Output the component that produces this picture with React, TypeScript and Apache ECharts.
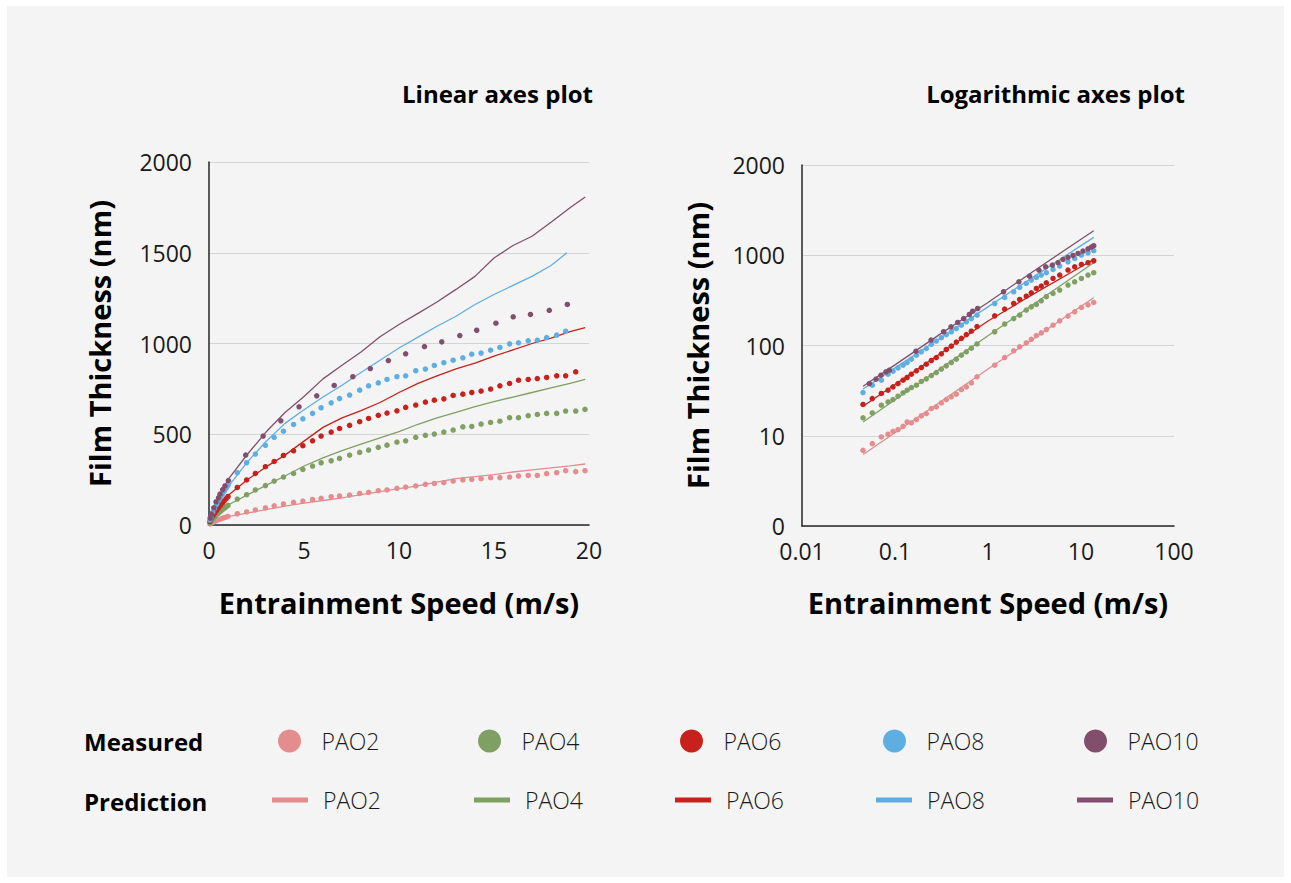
import React, { useEffect, useRef } from "react";
import * as echarts from "echarts";

// ---------- shared ----------
const NAMES = ["PAO2", "PAO4", "PAO6", "PAO8", "PAO10"];
const COLORS = ["#E48C8E", "#7F9F63", "#C8201A", "#5FAEE2", "#814F6B"];

// ---------- linear plot : measured ----------
const LIN_SPEED = [
  0.05, 0.1, 0.2, 0.3, 0.4, 0.5, 0.6, 0.7, 0.8, 0.9, 1.0,
  1.49, 1.98, 2.44, 2.97, 3.43, 3.92, 4.45, 4.94, 5.45, 5.9,
  6.43, 6.87, 7.4, 7.93, 8.4, 8.91, 9.37, 9.89, 10.35, 10.88,
  11.39, 11.86, 12.36, 12.85, 13.36, 13.83, 14.32, 14.82, 15.31, 15.82,
  16.29, 16.8, 17.28, 17.77, 18.3, 18.77, 19.3, 19.79,
];
const LIN_PAO2 = [
  6, 9, 15, 20, 25, 29, 33, 37, 40, 44, 47,
  62, 72, 83, 95, 106, 116, 125, 132, 141, 147,
  156, 160, 165, 174, 180, 189, 193, 202, 209, 215,
  224, 229, 233, 242, 248, 251, 255, 261, 261, 264,
  270, 273, 273, 283, 288, 299, 294, 299,
];
const LIN_PAO4 = [
  13, 22, 35, 46, 57, 66, 75, 84, 92, 100, 108,
  143, 167, 193, 217, 242, 264, 284, 306, 325, 343,
  354, 367, 385, 400, 413, 428, 440, 457, 464, 483,
  494, 501, 512, 523, 541, 543, 556, 565, 572, 591,
  591, 602, 609, 615, 615, 628, 628, 637,
];
const LIN_PAO6 = [
  19, 31, 50, 66, 81, 95, 108, 120, 133, 145, 157,
  207, 248, 284, 321, 350, 383, 409, 437, 464, 490,
  512, 532, 549, 569, 587, 604, 617, 629, 648, 661,
  677, 688, 695, 714, 721, 730, 738, 749, 767, 780,
  798, 802, 807, 813, 822, 822, 844,
];
const LIN_PAO8 = [
  27, 44, 71, 93, 114, 133, 151, 169, 186, 202, 218,
  288, 343, 391, 439, 483, 517, 554, 585, 615, 646,
  673, 697, 716, 743, 767, 783, 802, 817, 822, 850,
  859, 879, 894, 908, 921, 941, 947, 963, 978, 998,
  1004, 1015, 1018, 1033, 1046, 1068,
];
const LIN_PAO10_SPEED = [
  0.06, 0.12, 0.25, 0.37, 0.5, 0.58, 0.72, 0.84, 1.02, 1.93,
  2.85, 3.78, 4.74, 5.67, 6.59, 7.57, 8.49, 9.44, 10.35, 11.34,
  12.25, 13.2, 14.09, 15.1, 16.01, 16.92, 17.91, 18.86,
];
const LIN_PAO10 = [
  38, 60, 95, 128, 150, 170, 195, 215, 245, 385,
  490, 574, 651, 712, 769, 817, 862, 906, 943, 983,
  1009, 1044, 1073, 1112, 1147, 1160, 1183, 1215,
];

// ---------- linear plot : prediction ----------
const LIN_PRED_SPEED = [0, 0.5, 1, 2, 3, 4, 5, 6, 7, 8, 9, 10, 11, 12, 13, 14, 15, 16, 17, 18, 19, 19.8];
const LIN_PRED_PAO2 = [0, 30, 46, 65, 85, 104, 120, 135, 150, 167, 184, 200, 215, 236, 256, 266, 278, 292, 304, 315, 326, 336];
const LIN_PRED_PAO4 = [0, 70, 110, 165, 218, 270, 325, 370, 410, 445, 480, 515, 555, 590, 620, 652, 680, 705, 730, 756, 780, 802];
const LIN_PRED_PAO6 = [0, 100, 163, 248, 320, 385, 462, 538, 590, 630, 675, 730, 780, 822, 860, 892, 930, 965, 1000, 1030, 1065, 1088];
const LIN_PRED_PAO8_SPEED = [0, 0.5, 1, 2, 3, 4, 5, 6, 7, 8, 9, 10, 11, 12, 13, 14, 15, 16, 17, 18, 18.84];
const LIN_PRED_PAO8 = [0, 130, 210, 345, 460, 560, 635, 705, 770, 840, 908, 975, 1035, 1095, 1150, 1215, 1270, 1320, 1370, 1430, 1500];
const LIN_PRED_PAO10 = [0, 150, 250, 387, 512, 620, 708, 805, 880, 953, 1037, 1105, 1166, 1229, 1298, 1370, 1471, 1540, 1591, 1668, 1748, 1807];

// ---------- log plot : measured ----------
const LOG_SPEED = [
  0.0453, 0.057, 0.0713, 0.0841, 0.0951, 0.1077, 0.122, 0.135, 0.15, 0.17,
  0.192, 0.217, 0.246, 0.278, 0.315, 0.356, 0.403, 0.456, 0.517, 0.585,
  0.662, 0.762, 1.18, 1.51, 1.89, 2.19, 2.58, 2.92, 3.31, 3.74,
  4.24, 5.0, 5.9, 7.25, 8.55, 10.1, 11.9, 13.7,
];
const LOG_PAO2 = [
  6.9, 8.2, 9.7, 10.4, 11.2, 11.7, 12.7, 14.2, 13.9, 15.1,
  16.6, 17.6, 20.0, 20.9, 23.1, 25.2, 27.0, 28.9, 32.5, 34.8,
  38.5, 45.0, 60.5, 73.6, 87.3, 96.7, 107, 117, 129, 138,
  150, 168, 188, 212, 236, 264, 282, 300,
];
const LOG_PAO4 = [
  15.8, 17.9, 21.8, 23.7, 25.2, 27.4, 29.9, 32.0, 34.2, 36.3,
  40.0, 42.7, 46.5, 50.2, 54.7, 59.5, 64.8, 70.5, 78.1, 85.1,
  93.4, 104, 142, 173, 199, 217, 247, 268, 285, 313,
  347, 377, 411, 467, 508, 553, 603, 640,
];
const LOG_PAO6 = [
  22.2, 25.8, 29.4, 32.0, 34.8, 37.9, 41.3, 44.2, 48.1, 52.4,
  57.0, 62.1, 68.2, 73.6, 80.9, 90.3, 98.4, 109, 120, 132,
  144, 162, 213, 253, 292, 324, 352, 384, 429, 455,
  495, 553, 603, 685, 745, 791, 826, 869,
];
const LOG_PAO8 = [
  30.1, 36.3, 41.3, 48.1, 51.9, 56.5, 60.5, 64.8, 70.5, 78.1,
  85.1, 92.6, 103, 112, 122, 132, 142, 154, 168, 183,
  199, 217, 292, 341, 394, 440, 487, 531, 568, 603,
  640, 697, 759, 847, 923, 1004, 1066, 1122,
];
const LOG_PAO10_SPEED = [
  0.053, 0.0625, 0.0707, 0.08, 0.0869, 0.168, 0.244, 0.333, 0.4, 0.472,
  0.547, 0.63, 0.684, 0.774, 1.47, 2.15, 2.8, 3.53, 4.17, 4.92,
  5.66, 6.4, 7.25, 8.2, 9.29, 10.5, 11.9, 12.9, 13.7,
];
const LOG_PAO10 = [
  37.9, 42.3, 46.9, 51.0, 53.2, 86.5, 115, 142, 161, 180,
  199, 221, 240, 257, 394, 508, 587, 685, 745, 778,
  826, 899, 946, 995, 1048, 1112, 1180, 1232, 1275,
];

// ---------- log plot : prediction ----------
const LOG_PRED_SPEED = [0.0453, 0.1, 0.3, 1, 3, 10, 13.7];
const LOG_PRED_PAO2 = [6.2, 10.8, 23.4, 55, 117, 272, 338];
const LOG_PRED_PAO4 = [14.2, 25, 54.6, 128, 281, 661, 826];
const LOG_PRED_PAO6 = [21.2, 37, 80, 187, 366, 746, 900];
const LOG_PRED_PAO8 = [33, 56.5, 119, 268, 565, 1277, 1578];
const LOG_PRED_PAO10 = [35.4, 61, 132, 300, 653, 1507, 1870];

// ---------- tick labels ----------
const LIN_X_MAX = 20;
const LIN_Y_MAX = 2000;
const LOG_X_LABELS = ["0.01", "0.1", "1", "10", "100"]; // exponents -2..2
const LOG_Y_LABELS = ["0", "10", "100", "1000", "2000"]; // exponents 0..4

const FONT = "'Open Sans', 'Noto Sans', sans-serif";

const zip = (xs: number[], ys: number[]) => ys.map((y, i) => [xs[i], y]);

const LIN_MEAS = [
  zip(LIN_SPEED, LIN_PAO2),
  zip(LIN_SPEED, LIN_PAO4),
  zip(LIN_SPEED, LIN_PAO6),
  zip(LIN_SPEED, LIN_PAO8),
  zip(LIN_PAO10_SPEED, LIN_PAO10),
];
const LIN_PRED = [
  zip(LIN_PRED_SPEED, LIN_PRED_PAO2),
  zip(LIN_PRED_SPEED, LIN_PRED_PAO4),
  zip(LIN_PRED_SPEED, LIN_PRED_PAO6),
  zip(LIN_PRED_PAO8_SPEED, LIN_PRED_PAO8),
  zip(LIN_PRED_SPEED, LIN_PRED_PAO10),
];
const LOG_MEAS = [
  zip(LOG_SPEED, LOG_PAO2),
  zip(LOG_SPEED, LOG_PAO4),
  zip(LOG_SPEED, LOG_PAO6),
  zip(LOG_SPEED, LOG_PAO8),
  zip(LOG_PAO10_SPEED, LOG_PAO10),
];
const LOG_PRED = [
  zip(LOG_PRED_SPEED, LOG_PRED_PAO2),
  zip(LOG_PRED_SPEED, LOG_PRED_PAO4),
  zip(LOG_PRED_SPEED, LOG_PRED_PAO6),
  zip(LOG_PRED_SPEED, LOG_PRED_PAO8),
  zip(LOG_PRED_SPEED, LOG_PRED_PAO10),
];

const MEAS_LEGEND_LEFT = [278, 478, 680, 883, 1084];
const PRED_LEGEND_LEFT = [272, 474, 675, 876, 1077];

function buildOption() {
  const axisLine = { show: true, lineStyle: { color: "#262626", width: 1.5 } };
  const splitLine = { show: true, lineStyle: { color: "#d4d4d4", width: 1 } };
  const tickLabel = { fontSize: 23, lineHeight: 20, color: "#1a1a1a", fontFamily: FONT };
  const nameStyle = { fontSize: 29, fontWeight: "bold", color: "#000", fontFamily: FONT };
  const titleStyle = { fontSize: 24, fontWeight: "bold", color: "#000", fontFamily: FONT };

  const series: any[] = [];
  NAMES.forEach((n, i) => {
    const c = COLORS[i];
    series.push({
      name: "Prediction " + n, type: "line", xAxisIndex: 0, yAxisIndex: 0,
      data: LIN_PRED[i], symbol: "none", showSymbol: false, smooth: false,
      lineStyle: { color: c, width: 1.3 }, itemStyle: { color: c }, z: 2,
    });
    series.push({
      name: "Measured " + n, type: "scatter", xAxisIndex: 0, yAxisIndex: 0,
      data: LIN_MEAS[i], symbolSize: 5.5, itemStyle: { color: c, opacity: 1 }, z: 3,
    });
    series.push({
      name: "Prediction " + n, type: "line", xAxisIndex: 1, yAxisIndex: 1,
      data: LOG_PRED[i], symbol: "none", showSymbol: false,
      lineStyle: { color: c, width: 1.3 }, itemStyle: { color: c }, z: 2,
    });
    series.push({
      name: "Measured " + n, type: "scatter", xAxisIndex: 1, yAxisIndex: 1,
      data: LOG_MEAS[i], symbolSize: 5.5, itemStyle: { color: c, opacity: 1 }, z: 3,
    });
  });

  const legendText = { fontSize: 23, fontWeight: 300, color: "#1a1a1a", fontFamily: FONT, lineHeight: 26 };
  const legends: any[] = [];
  NAMES.forEach((n, i) => {
    legends.push({
      data: [{ name: "Measured " + n, icon: "circle" }],
      left: MEAS_LEGEND_LEFT[i], top: 728, padding: 0,
      itemWidth: 24, itemHeight: 23, selectedMode: false,
      formatter: (name: string) => name.replace(/^Measured /, ""),
      textStyle: { ...legendText, padding: [0, 0, 0, 15] },
    });
    legends.push({
      data: [{ name: "Prediction " + n, icon: "rect" }],
      left: PRED_LEGEND_LEFT[i], top: 787, padding: 0,
      itemWidth: 36, itemHeight: 5, selectedMode: false,
      formatter: (name: string) => name.replace(/^Prediction /, ""),
      textStyle: { ...legendText, padding: [0, 0, 0, 10] },
    });
  });

  const logLabel = (labels: string[], offset: number) => (v: number) => {
    const e = Math.round(Math.log10(v));
    return labels[e + offset] ?? "";
  };

  return {
    animation: false,
    backgroundColor: "#ffffff",
    textStyle: { fontFamily: FONT },
    title: [
      { text: "Linear axes plot", right: 1291 - 593, top: 81, padding: 0, textStyle: titleStyle },
      { text: "Logarithmic axes plot", right: 1291 - 1185, top: 81, padding: 0, textStyle: titleStyle },
    ],
    graphic: [
      {
        type: "rect", z: -10, silent: true,
        shape: { x: 7, y: 6, width: 1277, height: 871 },
        style: { fill: "#f4f4f4" },
      },
      {
        type: "text", x: 84, y: 741, silent: true,
        style: { text: "Measured", fontSize: 24, fontWeight: "bold", fontFamily: FONT, fill: "#000", align: "left", verticalAlign: "middle" },
      },
      {
        type: "text", x: 84, y: 801, silent: true,
        style: { text: "Prediction", fontSize: 24, fontWeight: "bold", fontFamily: FONT, fill: "#000", align: "left", verticalAlign: "middle" },
      },
    ],
    legend: legends,
    grid: [
      { left: 209, top: 162, width: 380, height: 363 },
      { left: 802, top: 165, width: 372, height: 361 },
    ],
    xAxis: [
      {
        type: "value", gridIndex: 0, min: 0, max: LIN_X_MAX, interval: 5,
        axisLine, axisTick: { show: false }, splitLine: { show: false },
        axisLabel: { ...tickLabel, margin: 15, formatter: (v: number) => String(v) },
        name: "Entrainment Speed (m/s)", nameLocation: "middle", nameGap: 63, nameTextStyle: nameStyle,
      },
      {
        type: "log", logBase: 10, gridIndex: 1, min: 0.01, max: 100,
        axisLine, axisTick: { show: false }, splitLine: { show: false }, minorTick: { show: false },
        axisLabel: { ...tickLabel, margin: 15, formatter: logLabel(LOG_X_LABELS, 2) },
        name: "Entrainment Speed (m/s)", nameLocation: "middle", nameGap: 62, nameTextStyle: nameStyle,
      },
    ],
    yAxis: [
      {
        type: "value", gridIndex: 0, min: 0, max: LIN_Y_MAX, interval: 500,
        axisLine, axisTick: { show: false }, splitLine,
        axisLabel: { ...tickLabel, margin: 17, formatter: (v: number) => String(v) },
        name: "Film Thickness (nm)", nameLocation: "middle", nameGap: 95, nameRotate: 90, nameTextStyle: nameStyle,
      },
      {
        type: "log", logBase: 10, gridIndex: 1, min: 1, max: 10000,
        axisLine, axisTick: { show: false }, splitLine, minorTick: { show: false },
        axisLabel: { ...tickLabel, margin: 17, formatter: logLabel(LOG_Y_LABELS, 0) },
        name: "Film Thickness (nm)", nameLocation: "middle", nameGap: 90, nameRotate: 90, nameTextStyle: nameStyle,
      },
    ],
    series,
  };
}

export default function App() {
  const ref = useRef<HTMLDivElement>(null);
  useEffect(() => {
    if (!ref.current) return;
    const chart = echarts.init(ref.current, undefined, { renderer: "svg" });
    chart.setOption(buildOption() as any);
    return () => chart.dispose();
  }, []);
  return (
    <div
      ref={ref}
      style={{ position: "absolute", left: 0, top: 0, width: 1291, height: 883 }}
    />
  );
}
